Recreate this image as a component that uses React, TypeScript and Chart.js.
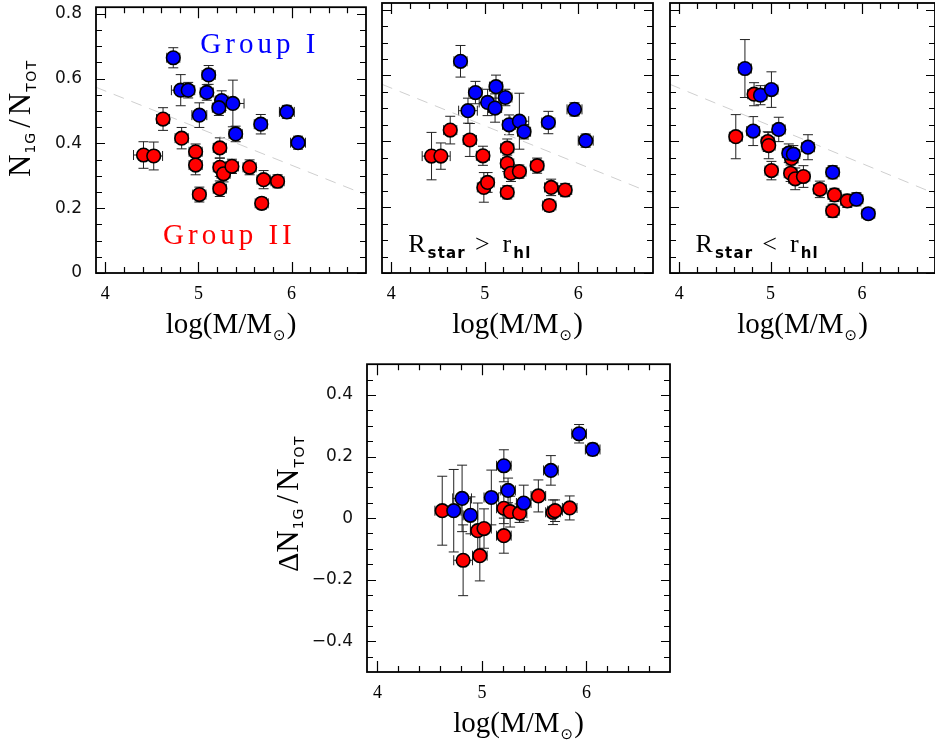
import React, { useEffect, useRef } from "react";
import { Chart, registerables } from "chart.js";
Chart.register(...registerables);

// ---------------- DATA ----------------
// Panel A (all stars): N1G/NTOT vs log(M/Msun)
const aBlueX = [4.73, 4.81, 4.89, 5.11, 5.09, 5.01, 5.25, 5.22, 5.37, 5.40, 5.67, 5.95, 6.07];
const aBlueY = [0.664, 0.564, 0.564, 0.611, 0.557, 0.487, 0.532, 0.510, 0.523, 0.429, 0.459, 0.497, 0.402];
const aBlueYErr = [0.031, 0.048, 0.024, 0.029, 0.024, 0.038, 0.030, 0.024, 0.072, 0.024, 0.030, 0.020, 0.020];
const aBlueXErr = [0.07, 0.10, 0.07, 0.07, 0.07, 0.08, 0.07, 0.07, 0.12, 0.07, 0.07, 0.08, 0.08];

const aRedX = [4.62, 4.82, 4.41, 4.52, 4.97, 4.97, 5.01, 5.23, 5.23, 5.27, 5.36, 5.23, 5.55, 5.70, 5.85, 5.68];
const aRedY = [0.475, 0.416, 0.364, 0.361, 0.374, 0.333, 0.242, 0.386, 0.326, 0.306, 0.329, 0.260, 0.326, 0.288, 0.283, 0.215];
const aRedYErr = [0.035, 0.033, 0.041, 0.043, 0.024, 0.030, 0.023, 0.031, 0.028, 0.025, 0.022, 0.024, 0.023, 0.028, 0.020, 0.018];
const aRedXErr = [0.07, 0.07, 0.107, 0.095, 0.07, 0.07, 0.07, 0.07, 0.07, 0.07, 0.07, 0.07, 0.07, 0.07, 0.07, 0.07];

// Panel B (R_star > r_hl)
const bBlueX = [4.74, 4.90, 4.82, 5.12, 5.03, 5.11, 5.22, 5.26, 5.37, 5.42, 5.68, 5.96, 6.08];
const bBlueY = [0.643, 0.548, 0.493, 0.566, 0.518, 0.501, 0.533, 0.450, 0.461, 0.429, 0.457, 0.497, 0.402];
const bBlueYErr = [0.048, 0.034, 0.038, 0.035, 0.040, 0.043, 0.025, 0.030, 0.085, 0.022, 0.034, 0.020, 0.020];
const bBlueXErr = [0.07, 0.07, 0.10, 0.07, 0.09, 0.07, 0.07, 0.07, 0.10, 0.07, 0.07, 0.08, 0.08];

const bRedX = [4.63, 4.84, 4.43, 4.53, 4.98, 4.99, 5.03, 5.24, 5.24, 5.28, 5.37, 5.24, 5.56, 5.71, 5.86, 5.69];
const bRedY = [0.434, 0.404, 0.355, 0.355, 0.356, 0.260, 0.275, 0.379, 0.333, 0.303, 0.308, 0.245, 0.326, 0.260, 0.252, 0.205];
const bRedYErr = [0.042, 0.050, 0.072, 0.040, 0.029, 0.045, 0.030, 0.028, 0.025, 0.025, 0.020, 0.020, 0.023, 0.025, 0.020, 0.018];
const bRedXErr = [0.07, 0.07, 0.10, 0.10, 0.07, 0.07, 0.07, 0.07, 0.07, 0.07, 0.07, 0.07, 0.07, 0.07, 0.07, 0.07];

// Panel C (R_star < r_hl)
const cBlueX = [4.72, 4.89, 5.01, 4.81, 5.09, 5.20, 5.25, 5.41, 5.68, 5.94, 6.07];
const cBlueY = [0.621, 0.540, 0.557, 0.431, 0.436, 0.364, 0.361, 0.382, 0.306, 0.224, 0.180];
const cBlueYErr = [0.088, 0.029, 0.054, 0.044, 0.037, 0.028, 0.026, 0.038, 0.020, 0.020, 0.016];
const cBlueXErr = [0.07, 0.07, 0.07, 0.07, 0.07, 0.07, 0.07, 0.07, 0.07, 0.07, 0.07];

const cRedX = [4.62, 4.82, 4.97, 4.98, 5.01, 5.23, 5.22, 5.27, 5.36, 5.54, 5.70, 5.84, 5.68];
const cRedY = [0.414, 0.543, 0.399, 0.387, 0.311, 0.348, 0.303, 0.286, 0.293, 0.254, 0.237, 0.219, 0.189];
const cRedYErr = [0.067, 0.035, 0.030, 0.040, 0.028, 0.030, 0.025, 0.033, 0.033, 0.025, 0.020, 0.020, 0.020];
const cRedXErr = [0.07, 0.07, 0.07, 0.07, 0.07, 0.07, 0.07, 0.07, 0.07, 0.07, 0.07, 0.07, 0.07];

// Panel D: Delta N1G/NTOT
const dBlueX = [4.73, 4.81, 4.89, 5.09, 5.21, 5.25, 5.40, 5.66, 5.93, 6.06];
const dBlueY = [0.024, 0.064, 0.009, 0.067, 0.170, 0.090, 0.049, 0.155, 0.274, 0.223];
const dBlueYErr = [0.134, 0.108, 0.060, 0.089, 0.052, 0.040, 0.058, 0.048, 0.030, 0.020];
const dBlueXErr = [0.07, 0.09, 0.07, 0.07, 0.07, 0.07, 0.07, 0.07, 0.07, 0.07];

const dRedX = [4.62, 4.82, 4.96, 5.02, 4.98, 5.21, 5.27, 5.36, 5.21, 5.54, 5.68, 5.70, 5.84];
const dRedY = [0.024, -0.137, -0.041, -0.034, -0.122, 0.032, 0.021, 0.016, -0.057, 0.072, 0.019, 0.024, 0.033];
const dRedYErr = [0.112, 0.115, 0.090, 0.064, 0.082, 0.050, 0.050, 0.030, 0.057, 0.052, 0.040, 0.035, 0.039];
const dRedXErr = [0.07, 0.09, 0.07, 0.07, 0.07, 0.07, 0.07, 0.07, 0.07, 0.07, 0.07, 0.07, 0.07];

// Separation line (dashed) in top panels
const trendX = [3.9, 6.8];
const trendY = [0.573, 0.241];

// Axes
const xRange = [3.9, 6.8];
const xMajor = [4, 5, 6];
const xMinor = [4.2, 4.4, 4.6, 4.8, 5.2, 5.4, 5.6, 5.8, 6.2, 6.4, 6.6];
const topYRange = [0, 0.82];
const topYMajor = [0, 0.2, 0.4, 0.6, 0.8];
const topYMinor = [0.05, 0.1, 0.15, 0.25, 0.3, 0.35, 0.45, 0.5, 0.55, 0.65, 0.7, 0.75];
const botYRange = [-0.5, 0.5];
const botYMajor = [-0.4, -0.2, 0, 0.2, 0.4];
const botYMinor = [-0.45, -0.35, -0.3, -0.25, -0.15, -0.1, -0.05, 0.05, 0.1, 0.15, 0.25, 0.3, 0.35, 0.45];

// ---------------- HELPERS ----------------
type Seg = { t: string; font: string; dy?: number; gap?: number; ls?: number };
const SERIF = "Liberation Serif";
const SANS = "DejaVu Sans";
const BLUE = "#0000ff";
const RED = "#ff0000";

function pts(xs: number[], ys: number[], yes: number[], xes: number[]) {
  return xs.map((x, i) => ({ x, y: ys[i], ye: yes[i], xe: xes[i] }));
}

function drawRich(ctx: CanvasRenderingContext2D, segs: Seg[], x: number, y: number, align: "left" | "center", color: string) {
  ctx.save();
  ctx.fillStyle = color;
  ctx.textBaseline = "alphabetic";
  ctx.textAlign = "left";
  const widths = segs.map((s) => {
    ctx.font = s.font;
    (ctx as any).letterSpacing = (s.ls || 0) + "px";
    return ctx.measureText(s.t).width;
  });
  let total = 0;
  segs.forEach((s, i) => (total += (s.gap || 0) + widths[i]));
  let cur = align === "center" ? x - total / 2 : x;
  segs.forEach((s, i) => {
    cur += s.gap || 0;
    ctx.font = s.font;
    (ctx as any).letterSpacing = (s.ls || 0) + "px";
    ctx.fillText(s.t, cur, y + (s.dy || 0));
    cur += widths[i];
  });
  ctx.restore();
}

const xTitle: Seg[] = [
  { t: "log(M/M", font: `29px ${SERIF}` },
  { t: "\u2299", font: `15px ${SANS}`, dy: 7, gap: 1 },
  { t: ")", font: `29px ${SERIF}`, gap: 1 },
];
const yTitleTop: Seg[] = [
  { t: "N", font: `31px ${SERIF}` },
  { t: "1G", font: `14px ${SANS}`, dy: 5, gap: 1, ls: 1 },
  { t: "/", font: `31px ${SERIF}`, gap: 4 },
  { t: "N", font: `31px ${SERIF}`, gap: 4 },
  { t: "TOT", font: `14px ${SANS}`, dy: 6, gap: 1, ls: 1.5 },
];
const yTitleBot: Seg[] = [{ t: "\u0394", font: `30px ${SERIF}` }, ...yTitleTop];

function rLabel(op: string): Seg[] {
  return [
    { t: "R", font: `26px ${SERIF}` },
    { t: "star", font: `bold 15px ${SANS}`, dy: 6, gap: 2, ls: 1.2 },
    { t: op, font: `26px ${SERIF}`, gap: 9 },
    { t: "r", font: `26px ${SERIF}`, gap: 13 },
    { t: "hl", font: `bold 15px ${SANS}`, dy: 6, gap: 2, ls: 1.2 },
  ];
}

type Note = { segs: Seg[]; x: number; y: number; color: string };
type PanelCfg = {
  left: number; top: number; right: number; bottom: number;
  yRange: number[]; yMajor: number[]; yMinor: number[];
  showYLabels: boolean; yTitle: Seg[] | null; yTitleX: number; yTitleUp: number;
  blue: any[]; red: any[]; trend: boolean; notes: Note[];
};

const fmtY = (v: number) => {
  if (Math.abs(v) < 1e-9) return "0";
  const s = Math.abs(v).toFixed(1);
  return v < 0 ? "\u2212" + s : s;
};

function buildChart(canvas: HTMLCanvasElement, cfg: PanelCfg) {
  const datasets: any[] = [];
  datasets.push({
    label: "Group I", data: cfg.blue, backgroundColor: BLUE, borderColor: "#000",
    borderWidth: 1.6, pointRadius: 6.8, errorBars: true,
  });
  datasets.push({
    label: "Group II", data: cfg.red, backgroundColor: RED, borderColor: "#000",
    borderWidth: 1.6, pointRadius: 6.8, errorBars: true,
  });
  if (cfg.trend) {
    datasets.push({
      label: "trend", data: trendX.map((x, i) => ({ x, y: trendY[i] })), showLine: true,
      pointRadius: 0, borderColor: "#cfcfcf", borderWidth: 1, borderDash: [11, 8], fill: false,
    });
  }

  const errPlugin = {
    id: "errbars",
    beforeDatasetsDraw(chart: any) {
      const { ctx, chartArea: a } = chart;
      const xs = chart.scales.x, ys = chart.scales.y;
      ctx.save();
      ctx.beginPath();
      ctx.rect(a.left, a.top, a.right - a.left, a.bottom - a.top);
      ctx.clip();
      ctx.strokeStyle = "#222";
      ctx.lineWidth = 1;
      const cap = 5;
      chart.data.datasets.forEach((ds: any) => {
        if (!ds.errorBars) return;
        ds.data.forEach((p: any) => {
          const px = xs.getPixelForValue(p.x), py = ys.getPixelForValue(p.y);
          ctx.beginPath();
          if (p.ye) {
            const y1 = ys.getPixelForValue(p.y - p.ye), y2 = ys.getPixelForValue(p.y + p.ye);
            ctx.moveTo(px, y1); ctx.lineTo(px, y2);
            ctx.moveTo(px - cap, y1); ctx.lineTo(px + cap, y1);
            ctx.moveTo(px - cap, y2); ctx.lineTo(px + cap, y2);
          }
          if (p.xe) {
            const x1 = xs.getPixelForValue(p.x - p.xe), x2 = xs.getPixelForValue(p.x + p.xe);
            ctx.moveTo(x1, py); ctx.lineTo(x2, py);
            ctx.moveTo(x1, py - cap); ctx.lineTo(x1, py + cap);
            ctx.moveTo(x2, py - cap); ctx.lineTo(x2, py + cap);
          }
          ctx.stroke();
        });
      });
      ctx.restore();
    },
  };

  const framePlugin = {
    id: "frame",
    afterDatasetsDraw(chart: any) {
      const { ctx, chartArea: a } = chart;
      const xs = chart.scales.x, ys = chart.scales.y;
      ctx.save();
      ctx.strokeStyle = "#000";
      ctx.lineWidth = 1.2;
      ctx.beginPath();
      const xt = (vals: number[], len: number) => vals.forEach((v) => {
        const px = Math.round(xs.getPixelForValue(v)) + 0.5;
        ctx.moveTo(px, a.bottom); ctx.lineTo(px, a.bottom - len);
        ctx.moveTo(px, a.top); ctx.lineTo(px, a.top + len);
      });
      const yt = (vals: number[], len: number) => vals.forEach((v) => {
        const py = Math.round(ys.getPixelForValue(v)) + 0.5;
        ctx.moveTo(a.left, py); ctx.lineTo(a.left + len, py);
        ctx.moveTo(a.right, py); ctx.lineTo(a.right - len, py);
      });
      xt(xMajor, 11); xt(xMinor, 6);
      yt(cfg.yMajor, 9); yt(cfg.yMinor, 6);
      ctx.stroke();
      ctx.lineWidth = 1.8;
      ctx.strokeRect(a.left, a.top, a.right - a.left, a.bottom - a.top);
      ctx.restore();
    },
    afterDraw(chart: any) {
      const { ctx, chartArea: a } = chart;
      const xs = chart.scales.x, ys = chart.scales.y;
      drawRich(ctx, xTitle, (a.left + a.right) / 2, a.bottom + 60, "center", "#000");
      if (cfg.yTitle) {
        ctx.save();
        ctx.translate(a.left - cfg.yTitleX, a.bottom - cfg.yTitleUp);
        ctx.rotate(-Math.PI / 2);
        drawRich(ctx, cfg.yTitle, 0, 0, "left", "#000");
        ctx.restore();
      }
      cfg.notes.forEach((n) => {
        drawRich(ctx, n.segs, xs.getPixelForValue(n.x), ys.getPixelForValue(n.y), "left", n.color);
      });
    },
  };

  return new Chart(canvas, {
    type: "scatter",
    data: { datasets },
    options: {
      responsive: false,
      animation: false,
      devicePixelRatio: 1,
      layout: { padding: { left: 0, top: 20, right: 10, bottom: 0 } },
      plugins: { legend: { display: false }, tooltip: { enabled: false } },
      scales: {
        x: {
          type: "linear", position: "bottom", min: xRange[0], max: xRange[1],
          afterBuildTicks: (s: any) => { s.ticks = xMajor.map((v) => ({ value: v })); },
          afterFit: (s: any) => { s.height = 80; },
          grid: { display: false, drawTicks: false },
          border: { display: false },
          ticks: { color: "#000", padding: 10, font: { family: SERIF, size: 18 }, callback: (v: any) => String(v) },
        },
        y: {
          type: "linear", position: "left", min: cfg.yRange[0], max: cfg.yRange[1],
          afterBuildTicks: (s: any) => { s.ticks = cfg.yMajor.map((v) => ({ value: v })); },
          afterFit: (s: any) => { s.width = 100; },
          grid: { display: false, drawTicks: false },
          border: { display: false },
          ticks: { display: cfg.showYLabels, color: "#111", padding: 14, font: { family: SANS, size: 17 }, callback: (v: any) => fmtY(Number(v)) },
        },
      },
    } as any,
    plugins: [errPlugin, framePlugin],
  });
}

const panels: PanelCfg[] = [
  {
    left: 96, top: 3, right: 366, bottom: 273, yRange: topYRange, yMajor: topYMajor, yMinor: topYMinor,
    showYLabels: true, yTitle: yTitleTop, yTitleX: 66, yTitleUp: 96,
    blue: pts(aBlueX, aBlueY, aBlueYErr, aBlueXErr), red: pts(aRedX, aRedY, aRedYErr, aRedXErr), trend: true,
    notes: [
      { segs: [{ t: "Group I", font: `29px ${SERIF}`, ls: 4 }], x: 5.02, y: 0.68, color: BLUE },
      { segs: [{ t: "Group II", font: `29px ${SERIF}`, ls: 4 }], x: 4.62, y: 0.089, color: RED },
    ],
  },
  {
    left: 382, top: 3, right: 653, bottom: 273, yRange: topYRange, yMajor: topYMajor, yMinor: topYMinor,
    showYLabels: false, yTitle: null, yTitleX: 0, yTitleUp: 0,
    blue: pts(bBlueX, bBlueY, bBlueYErr, bBlueXErr), red: pts(bRedX, bRedY, bRedYErr, bRedXErr), trend: true,
    notes: [{ segs: rLabel(">"), x: 4.18, y: 0.065, color: "#000" }],
  },
  {
    left: 670, top: 3, right: 935, bottom: 273, yRange: topYRange, yMajor: topYMajor, yMinor: topYMinor,
    showYLabels: false, yTitle: null, yTitleX: 0, yTitleUp: 0,
    blue: pts(cBlueX, cBlueY, cBlueYErr, cBlueXErr), red: pts(cRedX, cRedY, cRedYErr, cRedXErr), trend: true,
    notes: [{ segs: rLabel("<"), x: 4.18, y: 0.065, color: "#000" }],
  },
  {
    left: 367, top: 360, right: 670, bottom: 672, yRange: botYRange, yMajor: botYMajor, yMinor: botYMinor,
    showYLabels: true, yTitle: yTitleBot, yTitleX: 69, yTitleUp: 100,
    blue: pts(dBlueX, dBlueY, dBlueYErr, dBlueXErr), red: pts(dRedX, dRedY, dRedYErr, dRedXErr), trend: false,
    notes: [],
  },
];

function Panel({ cfg }: { cfg: PanelCfg }) {
  const ref = useRef<HTMLCanvasElement>(null);
  const W = cfg.right - cfg.left + 110;
  const H = cfg.bottom - cfg.top + 100;
  useEffect(() => {
    if (!ref.current) return;
    const chart = buildChart(ref.current, cfg);
    return () => chart.destroy();
  }, []);
  return (
    <canvas
      ref={ref}
      width={W}
      height={H}
      style={{ position: "absolute", left: cfg.left - 100, top: cfg.top - 20, width: W, height: H }}
    />
  );
}

export default function App() {
  return (
    <div style={{ position: "absolute", left: 0, top: 0, width: 935, height: 747, overflow: "hidden", background: "#fff" }}>
      {panels.map((p, i) => (
        <Panel key={i} cfg={p} />
      ))}
    </div>
  );
}
